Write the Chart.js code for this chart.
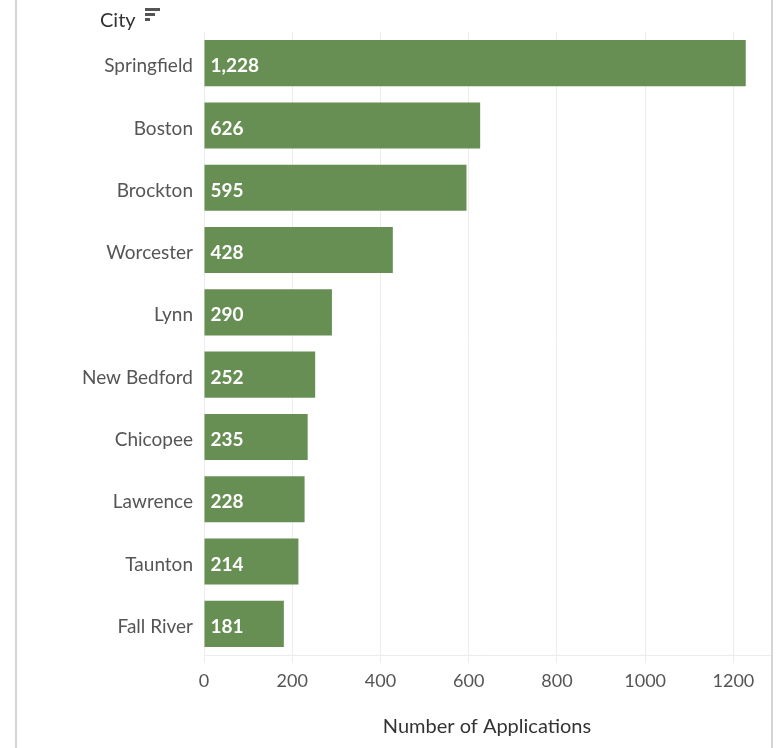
<!DOCTYPE html>
<html>
<head>
<meta charset="utf-8">
<script src="https://cdn.jsdelivr.net/npm/chart.js@4"></script>
<style>
  body { margin: 0; background: #fff; font-family: Lato, sans-serif; }
  #wrap { position: relative; width: 779px; height: 748px; }
  #lineL, #lineR { position: absolute; top: 0; width: 2px; height: 748px; background: #d4d4d4; }
  #lineL { left: 15px; }
  #lineR { left: 771px; }
  #cityTitle { position: absolute; left: 100px; top: 7px; font-size: 20px; color: #333; }
  #sortIcon { position: absolute; left: 145px; top: 8px; }
  #sortIcon div { height: 3px; background: #555; margin-bottom: 2px; }
</style>
</head>
<body>
<div id="wrap">
  <canvas id="myChart" width="779" height="748"></canvas>
  <div id="lineL"></div>
  <div id="lineR"></div>
  <div id="cityTitle">City</div>
  <div id="sortIcon">
    <div style="width:15px"></div>
    <div style="width:10px"></div>
    <div style="width:5px"></div>
  </div>
</div>
<script>
const cities = ["Springfield", "Boston", "Brockton", "Worcester", "Lynn", "New Bedford", "Chicopee", "Lawrence", "Taunton", "Fall River"];
const applications = [1228, 626, 595, 428, 290, 252, 235, 228, 214, 181];
const xTicks = [0, 200, 400, 600, 800, 1000, 1200];
const barColor = "#678f53";

const valueLabels = {
    id: "valueLabels",
    afterDatasetsDraw(chart) {
        const { ctx } = chart;
        const meta = chart.getDatasetMeta(0);
        ctx.save();
        ctx.fillStyle = "#fff";
        ctx.font = "bold 19px Lato";
        ctx.textBaseline = "middle";
        meta.data.forEach((bar, i) => {
            ctx.fillText(applications[i].toLocaleString("en-US"), bar.base + 6, bar.y + 3);
        });
        ctx.restore();
    },
};

const canvas = document.getElementById("myChart");
new Chart(canvas, {
    type: "bar",
    data: {
        labels: cities,
        datasets: [{
            data: applications,
            backgroundColor: barColor,
            categoryPercentage: 0.74,
            barPercentage: 1,
        }],
    },
    options: {
        indexAxis: "y",
        responsive: false,
        animation: false,
        layout: { padding: { top: 32, right: 9, left: 0, bottom: 0 } },
        plugins: { legend: { display: false }, tooltip: { enabled: false } },
        scales: {
            x: {
                min: 0,
                max: 1283,
                afterBuildTicks(scale) { scale.ticks = xTicks.map(v => ({ value: v })); },
                ticks: { color: "#555", font: { family: "Lato", size: 18 }, padding: 7, callback: v => String(v) },
                grid: { color: "#ececec", tickLength: 8 },
                border: { color: "#ececec" },
                title: { display: true, text: "Number of Applications", color: "#333", font: { family: "Lato", size: 20 }, padding: { top: 5, bottom: 9 } },
                afterFit(scale) { scale.height = 93; },
            },
            y: {
                ticks: { color: "#555", font: { family: "Lato", size: 19 }, padding: 3, labelOffset: 3 },
                grid: { display: false },
                border: { display: false },
                afterFit(scale) { scale.width = 204; },
            },
        },
    },
    plugins: [valueLabels],
});
</script>
</body>
</html>
